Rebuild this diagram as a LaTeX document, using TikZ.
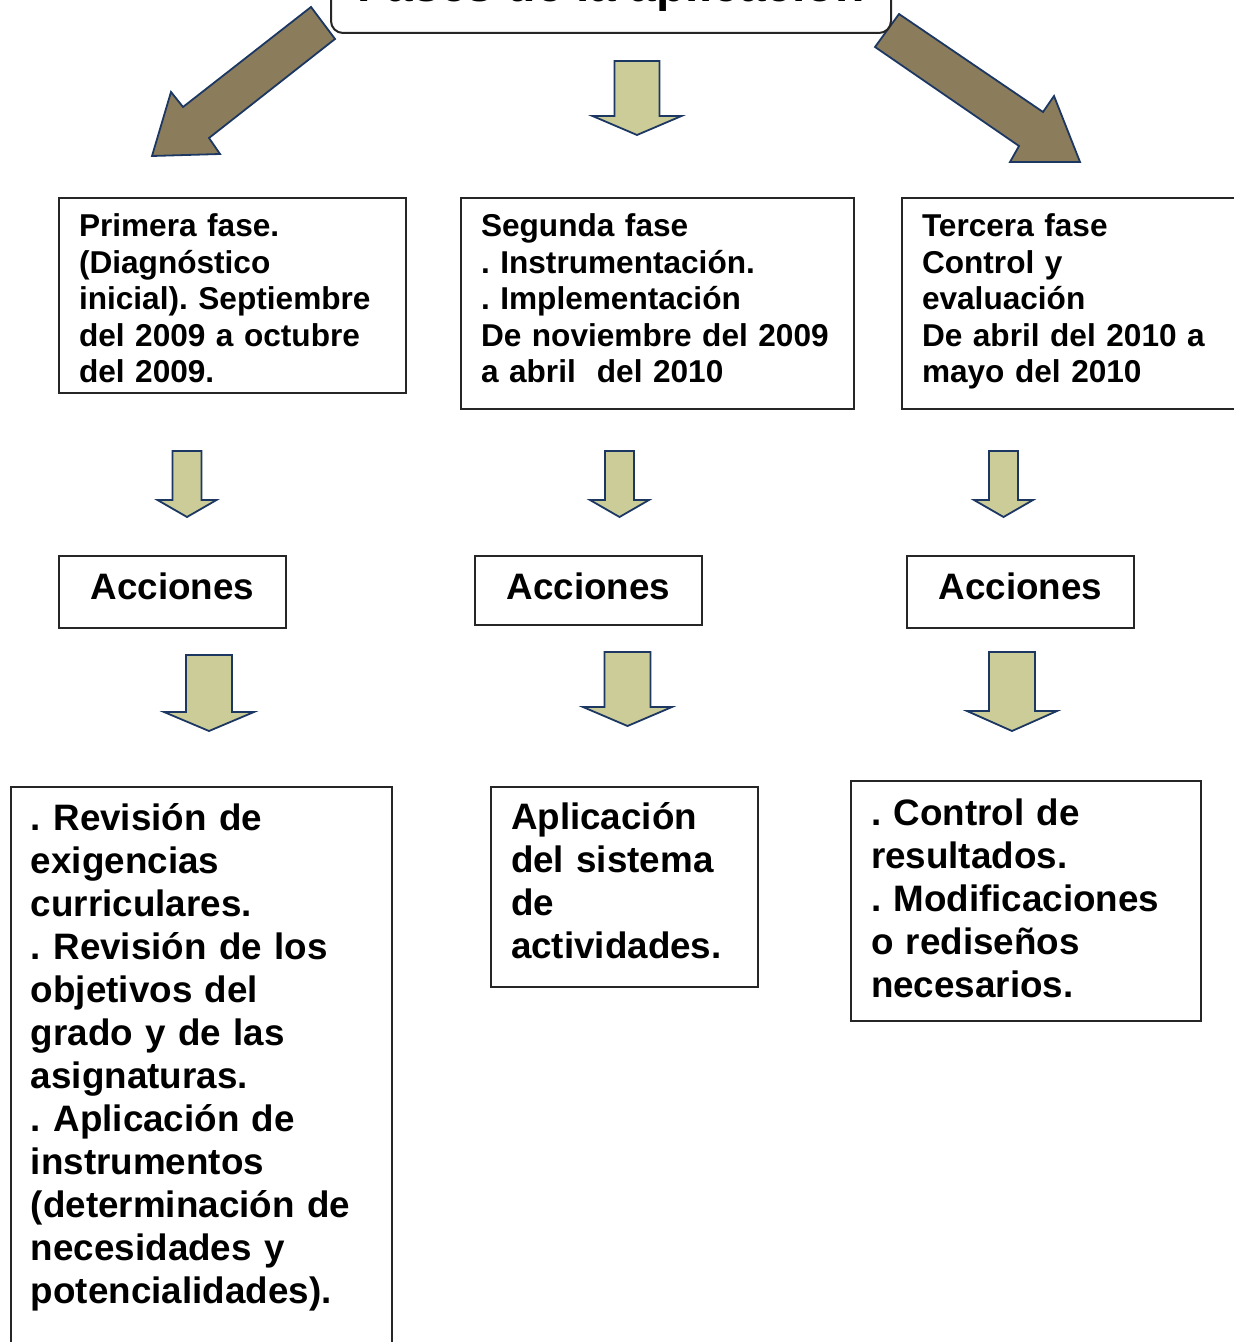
\documentclass[tikz,border=0pt]{standalone}
\usepackage{fontspec}
\setmainfont{Liberation Sans}
\frenchspacing
\definecolor{pardo}{RGB}{139,125,91}
\definecolor{azuloscuro}{RGB}{28,55,98}
\definecolor{caqui}{RGB}{204,204,153}
\newcommand{\letrafase}{\fontsize{15.8}{18.25}\selectfont\bfseries}
\newcommand{\letraaccion}{\fontsize{18.4}{21.5}\selectfont\bfseries}
\newcommand{\flechita}[6]{%
  \draw[flechaclara] ({#1-#5},#2) -- ({#1+#5},#2) -- ({#1+#5},#3) -- ({#1+#6},#3)
    -- (#1,#4) -- ({#1-#6},#3) -- ({#1-#5},#3) -- cycle;}

\begin{document}
\begin{tikzpicture}[x=0.5pt,y=-0.5pt,
    caja/.style={draw=black!85,line width=1pt,fill=white,anchor=north west,
      align=left,inner xsep=10pt,inner ysep=0pt},
    accion/.style={draw=black!85,line width=1pt,fill=white,anchor=north west,
      inner sep=0pt,minimum width=113.5pt,text height=21.5pt,font=\letraaccion},
    flechaclara/.style={fill=caqui,draw=azuloscuro,line width=0.9pt,line join=miter},
    flechagrande/.style={fill=pardo,draw=azuloscuro,line width=0.9pt,line join=miter}]
\useasboundingbox (0,0) rectangle (1234,1342);

\draw[flechagrande] (311,7) -- (335,39) -- (209,138) -- (220,154) -- (152,156) -- (171,92) -- (183,107) -- cycle;
\draw[flechagrande] (899,14) -- (1043,112) -- (1054,96) -- (1080,162) -- (1010,162) -- (1019,146) -- (875,47) -- cycle;

\node[draw=black!85,line width=1pt,fill=white,rounded corners=6pt,anchor=south west,
  inner sep=0pt,minimum width=280pt,text height=30pt,text depth=15.5pt,
  font=\fontsize{24}{28}\selectfont\bfseries] (titulo) at (330,34) {Fases de la aplicación};

\flechita{637}{61}{116}{135}{22.5}{44.5}

\node[caja,font=\letrafase,text width=153.5pt,text height=19.5pt,text depth=78pt] (fase1) at (58,197)
  {Primera fase.\\(Diagnóstico\\inicial). Septiembre\\del 2009 a octubre\\del 2009.};
\node[caja,font=\letrafase,text width=176.5pt,text height=19.5pt,text depth=86pt] (fase2) at (460,197)
  {Segunda fase\\. Instrumentación.\\. Implementación\\De noviembre del 2009\\a abril\ \ del 2010};
\node[caja,font=\letrafase,text width=149.5pt,text height=19.5pt,text depth=86pt] (fase3) at (901,197)
  {Tercera fase\\Control y\\evaluación\\De abril del 2010 a\\mayo del 2010};

\flechita{187}{451}{500}{517}{14.5}{29.5}
\flechita{619.5}{451}{500}{517}{14.5}{29.5}
\flechita{1003.5}{451}{500}{517}{14.5}{29.5}

\node[accion,text depth=14.5pt] (acciones1) at (58,555) {Acciones};
\node[accion,text depth=13pt] (acciones2) at (474,555) {Acciones};
\node[accion,text depth=14.5pt] (acciones3) at (906,555) {Acciones};

\flechita{209}{655}{712}{731}{23}{45}
\flechita{627.5}{652}{707}{726}{23}{44.5}
\flechita{1012}{652}{711}{731}{23}{45}

\node[caja,font=\letraaccion,text width=170.5pt,text height=21.5pt,text depth=270.5pt] (tareas1) at (10,786)
  {. Revisión de\\exigencias\\curriculares.\\. Revisión de los\\objetivos del\\grado y de las\\asignaturas.\\. Aplicación de\\instrumentos\\(determinación de\\necesidades y\\potencialidades).};
\node[caja,font=\letraaccion,text width=113.5pt,text height=21pt,text depth=79pt] (tareas2) at (490,786)
  {Aplicación\\del sistema\\de\\actividades.};
\node[caja,font=\letraaccion,text width=155pt,text height=22pt,text depth=98pt] (tareas3) at (850,780)
  {. Control de\\resultados.\\. Modificaciones\\o rediseños\\necesarios.};
\end{tikzpicture}
\end{document}
